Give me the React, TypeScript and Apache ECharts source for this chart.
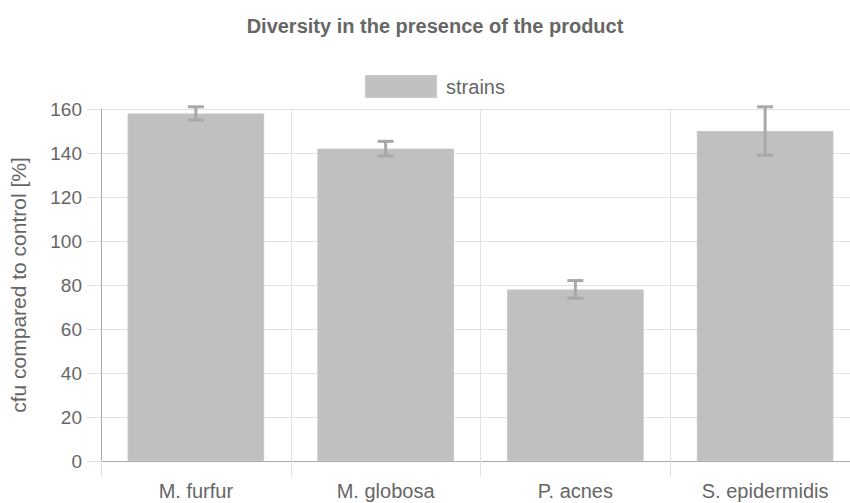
import React, { useEffect, useRef } from "react";
import * as echarts from "echarts";

const categories = ["M. furfur", "M. globosa", "P. acnes", "S. epidermidis"];
const values = [158, 142, 78, 150];
const errors = [3, 3.3, 4, 11];
const yTicks = { min: 0, max: 160, interval: 20 };

const TEXT = "#666666";
const FONT = "'Liberation Sans', Arial, sans-serif";

export default function App() {
  const ref = useRef<HTMLDivElement>(null);

  useEffect(() => {
    if (!ref.current) return;
    const chart = echarts.init(ref.current, undefined, { renderer: "svg" });
    const errData = values.map((v, i) => [i, v - errors[i], v + errors[i]]);
    chart.setOption({
      animation: false,
      backgroundColor: "#ffffff",
      textStyle: { fontFamily: FONT },
      title: {
        text: "Diversity in the presence of the product",
        left: "center",
        top: 11,
        textStyle: { fontSize: 20, fontWeight: "bold", color: TEXT, fontFamily: FONT },
      },
      legend: {
        data: ["strains"],
        top: 70,
        left: "center",
        icon: "rect",
        itemWidth: 70,
        itemHeight: 21,
        textStyle: { fontSize: 20, color: TEXT, fontFamily: FONT, padding: [0, 0, 0, 5] },
      },
      grid: { left: 100, right: 10, top: 109, bottom: 42, containLabel: false },
      xAxis: {
        type: "category",
        data: categories,
        axisLine: { show: true, lineStyle: { color: "#aaaaaa", width: 1 } },
        axisTick: { show: true, alignWithLabel: false, length: 16, lineStyle: { color: "#e2e2e2" } },
        splitLine: { show: true, lineStyle: { color: "#e2e2e2", width: 1 } },
        axisLabel: { fontSize: 20, color: TEXT, margin: 20, fontFamily: FONT },
      },
      yAxis: {
        type: "value",
        min: yTicks.min,
        max: yTicks.max,
        interval: yTicks.interval,
        name: "cfu compared to control [%]",
        nameLocation: "middle",
        nameGap: 72,
        nameRotate: 90,
        nameTextStyle: { fontSize: 21, color: TEXT, fontFamily: FONT },
        axisLine: { show: true, lineStyle: { color: "#aaaaaa", width: 1 } },
        axisTick: { show: true, length: 14, lineStyle: { color: "#e2e2e2" } },
        splitLine: { show: true, lineStyle: { color: "#e2e2e2", width: 1 } },
        axisLabel: { fontSize: 19, color: TEXT, margin: 19, fontFamily: FONT },
      },
      series: [
        {
          name: "strains",
          type: "bar",
          data: values,
          barCategoryGap: "28%",
          itemStyle: { color: "#c0c0c0", borderColor: "#c6c6c6", borderWidth: 1 },
        },
        {
          name: "error",
          type: "custom",
          data: errData,
          z: 10,
          renderItem: (params: any, api: any) => {
            const x = api.value(0);
            const lo = api.coord([x, api.value(1)]);
            const hi = api.coord([x, api.value(2)]);
            const hw = 8;
            const style = { stroke: "#a8a8a8", lineWidth: 3 };
            return {
              type: "group",
              children: [
                { type: "line", shape: { x1: lo[0], y1: lo[1], x2: hi[0], y2: hi[1] }, style },
                { type: "line", shape: { x1: lo[0] - hw, y1: lo[1], x2: lo[0] + hw, y2: lo[1] }, style },
                { type: "line", shape: { x1: hi[0] - hw, y1: hi[1], x2: hi[0] + hw, y2: hi[1] }, style },
              ],
            };
          },
        },
      ],
    });
    return () => chart.dispose();
  }, []);

  return (
    <div style={{ position: "fixed", left: 0, top: 0, width: 850, height: 503, overflow: "hidden", background: "#fff" }}>
      <div ref={ref} style={{ width: 870, height: 503 }} />
    </div>
  );
}
